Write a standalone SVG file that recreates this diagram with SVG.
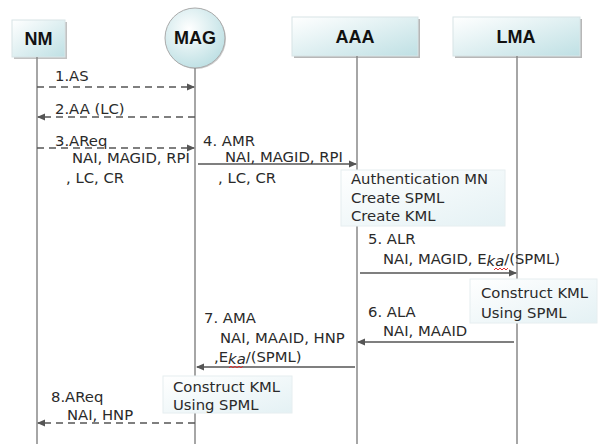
<svg xmlns="http://www.w3.org/2000/svg" width="602" height="444" viewBox="0 0 602 444">
<style>
text{font-family:"DejaVu Sans","Liberation Sans",Arial,sans-serif;font-size:14.8px;fill:#2a2a2a}
.hd{font-family:"Liberation Sans",Arial,sans-serif;font-size:18px;font-weight:bold;text-anchor:middle;fill:#111}
.life{stroke:#888;stroke-width:1.5;fill:none}
.msg{stroke:#555;stroke-width:1.3;fill:none}
.dash{stroke-dasharray:7,5}
.note{fill:url(#ng);stroke:#e6eef0;stroke-width:1}
.wavy{stroke:#e03030;stroke-width:1;fill:none}
</style>
<defs>
<linearGradient id="bg" x1="0" y1="0" x2="1" y2="1">
<stop offset="0" stop-color="#ffffff"/>
<stop offset="1" stop-color="#bfe0e4"/>
</linearGradient>
<radialGradient id="cg" cx="0.4" cy="0.35" r="0.7">
<stop offset="0" stop-color="#ffffff"/>
<stop offset="1" stop-color="#bcdfe3"/>
</radialGradient>
<linearGradient id="ng" x1="0" y1="0" x2="1" y2="1">
<stop offset="0" stop-color="#ffffff"/>
<stop offset="1" stop-color="#e4f1f4"/>
</linearGradient>
<marker id="ah" markerWidth="8" markerHeight="8" refX="7" refY="4" orient="auto" markerUnits="userSpaceOnUse">
<path d="M0,0.5 L8,4 L0,7.5 Z" fill="#555"/>
</marker>
</defs>

<g id="NM">
<rect x="14" y="22" width="53" height="37" fill="#999" opacity="0.6"/>
<rect x="12" y="20" width="53" height="37" fill="url(#bg)" stroke="#d8e4e6"/>
<text class="hd" x="38.5" y="45">NM</text>
<line class="life" x1="37" y1="57" x2="37" y2="444"/>
</g>
<g id="MAG">
<circle cx="196" cy="39" r="30" fill="#aaa" opacity="0.6"/>
<circle cx="195" cy="38" r="30" fill="url(#cg)" stroke="#aaa"/>
<text class="hd" x="195" y="44">MAG</text>
<line class="life" x1="195" y1="68" x2="195" y2="444"/>
</g>
<g id="AAA">
<rect x="294" y="19" width="126" height="39" fill="#999" opacity="0.7"/>
<rect x="292" y="17" width="126" height="39" fill="url(#bg)" stroke="#d8e4e6"/>
<text class="hd" x="355" y="43">AAA</text>
<line class="life" x1="357" y1="56" x2="357" y2="444"/>
</g>
<g id="LMA">
<rect x="455" y="19" width="127" height="39" fill="#999" opacity="0.7"/>
<rect x="453" y="17" width="127" height="39" fill="url(#bg)" stroke="#d8e4e6"/>
<text class="hd" x="516" y="43">LMA</text>
<line class="life" x1="517" y1="56" x2="517" y2="444"/>
</g>

<g id="notes">
<g id="note-aaa">
<rect class="note" x="341" y="170" width="164" height="56"/>
<text x="351" y="184">Authentication MN</text>
<text x="351" y="203">Create SPML</text>
<text x="351" y="221">Create KML</text>
</g>
<g id="note-lma">
<rect class="note" x="470" y="279" width="127" height="44"/>
<text x="481" y="298">Construct KML</text>
<text x="481" y="318">Using SPML</text>
</g>
<g id="note-mag">
<rect class="note" x="163" y="376" width="129" height="37"/>
<text x="173" y="392">Construct KML</text>
<text x="173" y="410">Using SPML</text>
</g>
</g>

<g id="connectors">
<line class="msg dash" x1="37" y1="87" x2="194" y2="87" marker-end="url(#ah)"/>
<line class="msg dash" x1="195" y1="117" x2="38" y2="117" marker-end="url(#ah)"/>
<line class="msg dash" x1="37" y1="148" x2="194" y2="148" marker-end="url(#ah)"/>
<line class="msg" x1="198" y1="164" x2="356" y2="164" marker-end="url(#ah)"/>
<line class="msg" x1="360" y1="273" x2="516" y2="273" marker-end="url(#ah)"/>
<line class="msg" x1="514" y1="342" x2="358" y2="342" marker-end="url(#ah)"/>
<line class="msg" x1="355" y1="367" x2="197" y2="367" marker-end="url(#ah)"/>
<line class="msg dash" x1="195" y1="423" x2="38" y2="423" marker-end="url(#ah)"/>
</g>

<g id="labels">
<text x="55" y="81">1.AS</text>
<text x="55" y="114">2.AA (LC)</text>
<text x="55" y="146">3.AReq</text>
<text x="72" y="163">NAI, MAGID, RPI</text>
<text x="66" y="183">, LC, CR</text>
<text x="203" y="146">4. AMR</text>
<text x="225" y="162">NAI, MAGID, RPI</text>
<text x="218" y="183">, LC, CR</text>
<text x="368" y="244">5. ALR</text>
<text x="383" y="264">NAI, MAGID, E<tspan font-style="italic" dy="2">ka</tspan><tspan dy="-2">/(SPML)</tspan></text>
<polyline class="wavy" points="494,270 496,268 498,270 500,268 502,270 504,268 506,270 508,268"/>
<text x="368" y="317">6. ALA</text>
<text x="383" y="336">NAI, MAAID</text>
<text x="204" y="323">7. AMA</text>
<text x="220" y="343">NAI, MAAID, HNP</text>
<text x="214" y="362">,E<tspan font-style="italic" dy="2">ka</tspan><tspan dy="-2">/(SPML)</tspan></text>
<polyline class="wavy" points="229,368 231,366 233,368 235,366 237,368 239,366 241,368 243,366"/>
<text x="51" y="402">8.AReq</text>
<text x="67" y="420">NAI, HNP</text>
</g>
</svg>
